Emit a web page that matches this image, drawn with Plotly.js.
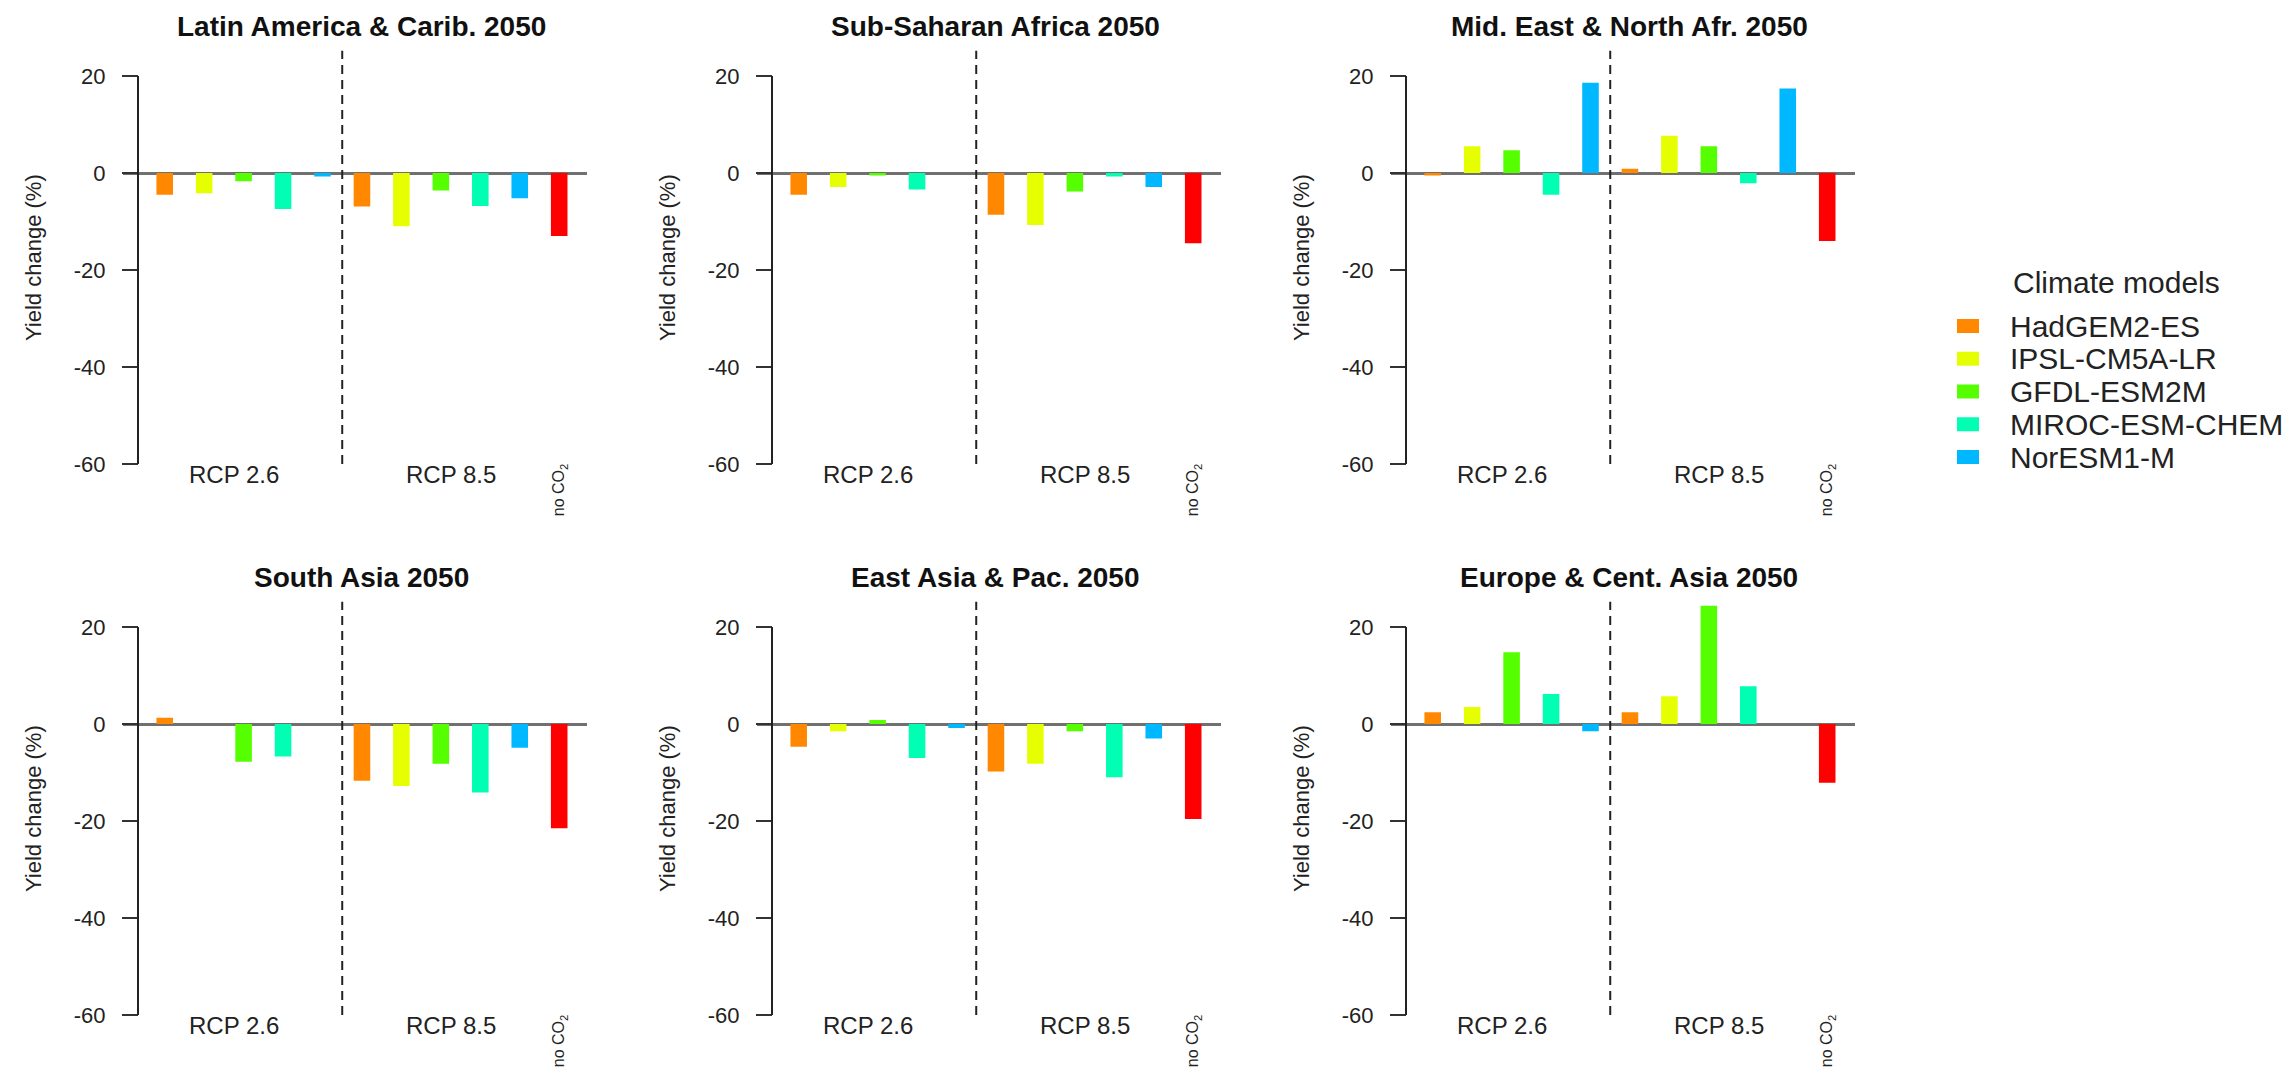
<!DOCTYPE html>
<html>
<head>
<meta charset="utf-8">
<script src="https://cdn.plot.ly/plotly-3.0.1.min.js"></script>
<style>html,body{margin:0;padding:0;background:#fff;}#chart{width:2292px;height:1071px;}</style>
</head>
<body>
<div id="chart"></div>
<script>
// ---- data ----
const models = ['HadGEM2-ES', 'IPSL-CM5A-LR', 'GFDL-ESM2M', 'MIROC-ESM-CHEM', 'NorESM1-M'];
const modelColors = ['#FF8800', '#E6FF00', '#55FF00', '#00FFB3', '#00B8FF'];
const noCO2Color = '#FF0000';
const legendTitle = 'Climate models';
const regions = ['Latin America & Carib. 2050', 'Sub-Saharan Africa 2050', 'Mid. East & North Afr. 2050',
                 'South Asia 2050', 'East Asia & Pac. 2050', 'Europe & Cent. Asia 2050'];
// yield change (%) per region, one value per climate model
const rcp26 = [
  [-4.5, -4.2, -1.7, -7.4, -0.7],
  [-4.5, -2.9, -0.5, -3.4, 0.0],
  [-0.5, 5.5, 4.7, -4.5, 18.6],
  [1.3, 0.0, -7.8, -6.7, 0.0],
  [-4.7, -1.5, 0.8, -7.0, -0.8],
  [2.4, 3.5, 14.8, 6.2, -1.5]
];
const rcp85 = [
  [-6.9, -11.0, -3.6, -6.8, -5.2],
  [-8.6, -10.7, -3.8, -0.7, -2.9],
  [0.9, 7.7, 5.5, -2.1, 17.4],
  [-11.7, -12.8, -8.2, -14.1, -4.9],
  [-9.8, -8.2, -1.5, -11.0, -3.0],
  [2.4, 5.7, 24.4, 7.8, 0.0]
];
const noCO2 = [-13.0, -14.5, -14.0, -21.5, -19.6, -12.1];
const yTickVals = [-60, -40, -20, 0, 20];
const yTickText = ['-60', '-40', '-20', '0', '20'];
const scenarioLabels = ['RCP 2.6', 'RCP 8.5'];
const noCO2Label = 'no CO<sub>2</sub>';

// ---- geometry ----
const W = 2292, H = 1071;
const FONT = 'Liberation Sans, Arial, Helvetica, sans-serif';
const colAxisPx = [138, 772, 1406];
const rowZeroPx = [173, 724];
const pxPerUnit = 4.85;
const yRange = [-62, 27];
const xRange = [-0.07, 11.692];
const spanPx = 464;
const pxPerX = spanPx / (xRange[1] - xRange[0]);
const leftPad = 15.5;
const px2x = p => p / W;
const px2y = p => 1 - p / H;

const data = [];
const layout = {
  width: W, height: H,
  margin: {l: 0, r: 0, t: 0, b: 0},
  paper_bgcolor: '#fff', plot_bgcolor: 'rgba(0,0,0,0)',
  font: {family: FONT, color: '#222'},
  barmode: 'overlay',
  showlegend: false,
  shapes: [], annotations: []
};

regions.forEach((name, k) => {
  const col = k % 3, row = Math.floor(k / 3);
  const sfx = k === 0 ? '' : String(k + 1);
  const xa = 'x' + sfx, ya = 'y' + sfx;
  const axisPx = colAxisPx[col];
  const zero = rowZeroPx[row];
  const leftPx = axisPx - leftPad, rightPx = leftPx + spanPx;
  const topPx = zero - yRange[1] * pxPerUnit, botPx = zero - yRange[0] * pxPerUnit;
  const axisX = xRange[0] + leftPad / pxPerX;

  layout['xaxis' + sfx] = {
    domain: [px2x(leftPx), px2x(rightPx)], range: xRange, anchor: ya,
    visible: false, fixedrange: true
  };
  layout['yaxis' + sfx] = {
    domain: [px2y(botPx), px2y(topPx)], range: yRange,
    anchor: 'free', position: px2x(axisPx),
    tickvals: yTickVals, ticktext: yTickText,
    ticks: 'outside', ticklen: 16, tickwidth: 2, tickcolor: '#333',
    ticklabelstandoff: 12,
    tickfont: {family: FONT, size: 22, color: '#222'},
    showline: false, showgrid: false,
    zeroline: true, zerolinecolor: '#707070', zerolinewidth: 3,
    fixedrange: true
  };

  models.forEach((m, i) => {
    data.push({
      type: 'bar', name: m, legendgroup: m,
      x: [i + 1, i + 1 + models.length], y: [rcp26[k][i], rcp85[k][i]],
      width: 0.42, marker: {color: modelColors[i], line: {width: 0}},
      xaxis: xa, yaxis: ya
    });
  });
  data.push({
    type: 'bar', name: 'no CO2',
    x: [2 * models.length + 1], y: [noCO2[k]],
    width: 0.42, marker: {color: noCO2Color, line: {width: 0}},
    xaxis: xa, yaxis: ya
  });

  // y axis line (-60 .. 20)
  layout.shapes.push({type: 'line', xref: xa, yref: ya, x0: axisX, x1: axisX,
    y0: yTickVals[0], y1: yTickVals[yTickVals.length - 1], line: {color: '#222', width: 2}});
  // dashed separator between scenarios
  layout.shapes.push({type: 'line', xref: xa, yref: ya, x0: models.length + 0.5, x1: models.length + 0.5,
    y0: -60, y1: 25.2, line: {color: '#222', width: 2, dash: '9px,6px'}});

  // panel title
  layout.annotations.push({text: name, xref: 'paper', yref: 'paper',
    x: px2x(axisPx + 223), y: px2y(zero - 147), xanchor: 'center', yanchor: 'middle',
    showarrow: false, font: {family: FONT, size: 28, weight: 'bold', color: '#111'}});
  // y axis title
  layout.annotations.push({text: 'Yield change (%)', xref: 'paper', yref: 'paper',
    x: px2x(axisPx - 105), y: px2y(zero + 85), xanchor: 'center', yanchor: 'middle',
    textangle: -90, showarrow: false, font: {family: FONT, size: 22, color: '#222'}});
  // scenario labels
  layout.annotations.push({text: scenarioLabels[0], xref: xa, yref: 'paper',
    x: 2.75, y: px2y(zero + 301), xanchor: 'center', yanchor: 'middle',
    showarrow: false, font: {family: FONT, size: 24, color: '#222'}});
  layout.annotations.push({text: scenarioLabels[1], xref: xa, yref: 'paper',
    x: 8.245, y: px2y(zero + 301), xanchor: 'center', yanchor: 'middle',
    showarrow: false, font: {family: FONT, size: 24, color: '#222'}});
  layout.annotations.push({text: noCO2Label, xref: xa, yref: 'paper',
    x: 2 * models.length + 1, y: px2y(zero + 289), xanchor: 'center', yanchor: 'top',
    textangle: -90, showarrow: false, font: {family: FONT, size: 16, color: '#222'}});
});

// ---- legend (climate models) ----
const legSwatchX = [1957, 1979];
const legTextX = 2008;
const legFirstY = 326, legStep = 32.75;
layout.annotations.push({text: legendTitle, xref: 'paper', yref: 'paper',
  x: px2x(2116), y: px2y(283), xanchor: 'center', yanchor: 'middle',
  showarrow: false, font: {family: FONT, size: 30, color: '#222'}});
models.forEach((m, i) => {
  const cy = legFirstY + i * legStep;
  layout.shapes.push({type: 'rect', xref: 'paper', yref: 'paper',
    x0: px2x(legSwatchX[0]), x1: px2x(legSwatchX[1]), y0: px2y(cy + 7), y1: px2y(cy - 7),
    fillcolor: modelColors[i], line: {width: 0}});
  layout.annotations.push({text: m, xref: 'paper', yref: 'paper',
    x: px2x(legTextX), y: px2y(cy), xanchor: 'left', yanchor: 'middle',
    showarrow: false, font: {family: FONT, size: 30, color: '#222'}});
});

Plotly.newPlot('chart', data, layout, {staticPlot: true, displayModeBar: false});
</script>
</body>
</html>
